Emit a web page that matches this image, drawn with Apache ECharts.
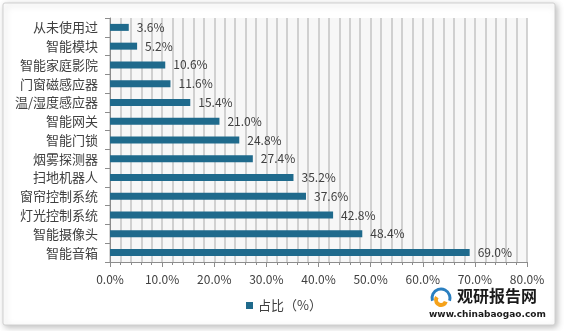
<!DOCTYPE html>
<html><head><meta charset="utf-8">
<script src="https://cdn.jsdelivr.net/npm/echarts@6/dist/echarts.min.js"></script>
<style>html,body{margin:0;padding:0;background:#fff;}#c{width:568px;height:331px;}</style>
</head><body><div id="c"></div>
<script>
const categories = ['从未使用过','智能模块','智能家庭影院','门窗磁感应器','温/湿度感应器','智能网关','智能门锁','烟雾探测器','扫地机器人','窗帘控制系统','灯光控制系统','智能摄像头','智能音箱'];
const values = [3.6,5.2,10.6,11.6,15.4,21.0,24.8,27.4,35.2,37.6,42.8,48.4,69.0];
const seriesName = '占比（%）';
const xTicks = [0,10,20,30,40,50,60,70,80];

const font = '"Noto Sans CJK SC", "Noto Sans", sans-serif';
const chart = echarts.init(document.getElementById('c'));
chart.setOption({
  animation: false,
  backgroundColor: '#fff',
  textStyle: {fontFamily: font},
  graphic: [
    {type:'rect', z:-10, shape:{x:3,y:3,width:552,height:322,r:2}, style:{fill:'#fff', stroke:'#d0d0d0', lineWidth:1, shadowBlur:6, shadowOffsetX:2, shadowOffsetY:2, shadowColor:'rgba(0,0,0,0.25)'}},
    {type:'rect', z:-9, shape:{x:110,y:18,width:417,height:244}, style:{fill:'#f7f7f7'}},
    {type:'arc', shape:{cx:441,cy:298,r:9,startAngle:Math.PI*0.9,endAngle:Math.PI*2.1}, style:{stroke:'#2a7fc0',lineWidth:3,fill:null}},
    {type:'arc', shape:{cx:441,cy:300,r:5,startAngle:Math.PI*0.1,endAngle:Math.PI*1.2}, style:{stroke:'#f5a21b',lineWidth:4,fill:null}},
    {type:'text', left:457, top:288, style:{text:'观研报告网', font:'bold 16px '+font, fill:'#1a1a1a'}},
    {type:'text', left:429, top:310, style:{text:'www.chinabaogao.com', font:'bold 9px "DejaVu Sans", sans-serif', fill:'#1a1a1a'}}
  ],
  grid: {left:110, right:41, top:18, bottom:69, containLabel:false},
  legend: {
    data:[seriesName], bottom:14, left:'center', itemWidth:7, itemHeight:7, icon:'rect',
    textStyle:{fontSize:13, color:'#404040', fontFamily:font}
  },
  xAxis: {
    type:'value', min:0, max:80, interval:10,
    axisLine:{show:true, lineStyle:{color:'#8c8c8c'}},
    axisTick:{show:true, length:5, lineStyle:{color:'#8c8c8c'}},
    minorTick:{show:true, splitNumber:5, length:3, lineStyle:{color:'#8c8c8c'}},
    splitLine:{show:true, lineStyle:{color:'#c4c4c4', width:1.5}},
    minorSplitLine:{show:true, lineStyle:{color:'#c4c4c4', width:1.5}},
    axisLabel:{formatter: v => v.toFixed(1)+'%', fontSize:12, color:'#404040', margin:11, fontFamily:font}
  },
  yAxis: {
    type:'category', data:categories, inverse:true,
    axisLine:{show:true, lineStyle:{color:'#8c8c8c'}},
    axisTick:{show:true, length:5, lineStyle:{color:'#8c8c8c'}},
    axisLabel:{fontSize:13, color:'#404040', margin:12, fontFamily:font}
  },
  series: [{
    name: seriesName, type:'bar', data: values, barWidth:7,
    itemStyle:{color:'#1f6a8c'},
    label:{show:true, position:'right', distance:8, formatter: p => p.value.toFixed(1)+'%', fontSize:12, color:'#404040', fontFamily:font}
  }]
});
</script></body></html>
